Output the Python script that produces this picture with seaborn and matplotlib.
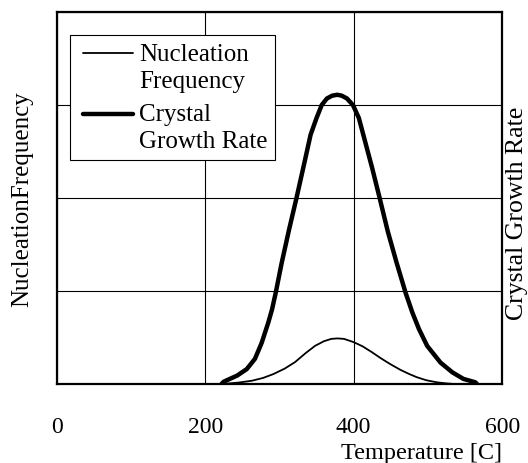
import numpy as np
import pandas as pd
import matplotlib.pyplot as plt
import seaborn as sns
from matplotlib.lines import Line2D
from matplotlib.legend_handler import HandlerLine2D

# values
temp_growth = [222, 225, 243, 256, 267, 276, 285, 290, 295, 303, 313, 323, 332, 342, 350, 357, 364,
               371, 378, 384, 391, 399, 407, 413, 425, 435, 446, 458, 470, 479, 488, 499, 517, 533,
               548, 564, 566]
growth_rate = [0.0, 0.025, 0.09, 0.16, 0.27, 0.44, 0.66, 0.80, 0.98, 1.30, 1.66, 2.0, 2.32, 2.68, 2.86,
               3.0, 3.07, 3.10, 3.11, 3.10, 3.07, 3.0, 2.86, 2.68, 2.32, 2.0, 1.64, 1.30, 0.98, 0.77,
               0.59, 0.41, 0.23, 0.125, 0.054, 0.018, 0.0]

temp_nuc = [223, 245, 263, 278, 292, 307, 321, 335, 348, 360, 370, 378, 387, 400, 412, 424, 436,
            449, 463, 474, 485, 498, 512, 524, 535]
nuc_freq = [0.0, 0.015, 0.035, 0.065, 0.107, 0.165, 0.235, 0.33, 0.41, 0.46, 0.485, 0.49, 0.485,
            0.45, 0.405, 0.345, 0.28, 0.215, 0.152, 0.11, 0.073, 0.04, 0.018, 0.007, 0.0]

x_ticks = [0, 200, 400, 600]
y_grid = [0, 1, 2, 3, 4]

df_g = pd.DataFrame({'T': temp_growth, 'v': growth_rate})
df_n = pd.DataFrame({'T': temp_nuc, 'v': nuc_freq})


# legend line sits next to the first line of the label, with a gap on the left
class FirstLineHandler(HandlerLine2D):
    def create_artists(self, legend, orig_handle, xdescent, ydescent, width, height, fontsize, trans):
        artists = super().create_artists(legend, orig_handle, xdescent, ydescent,
                                         width, height, fontsize, trans)
        for a in artists:
            xd = np.asarray(a.get_xdata(), dtype=float)
            yd = np.asarray(a.get_ydata(), dtype=float)
            if len(xd) >= 2:
                xd[0] = xd[0] + 0.22 * fontsize
            a.set_xdata(xd)
            a.set_ydata(yd + 0.54 * fontsize)
        return artists


sns.set_theme(style='white')
plt.rcParams['font.family'] = ['Liberation Serif', 'DejaVu Serif']
plt.rcParams['font.size'] = 17

fig, ax = plt.subplots(figsize=(5.28, 4.64), dpi=100)
fig.subplots_adjust(left=0.1074, right=0.951, top=0.972, bottom=0.1703)

sns.lineplot(data=df_n, x='T', y='v', ax=ax, color='black', linewidth=1.3,
             label='Nucleation\nFrequency', sort=False)
sns.lineplot(data=df_g, x='T', y='v', ax=ax, color='black', linewidth=3.2,
             label='Crystal\nGrowth Rate', sort=False)

ax.set_xlim(0, 600)
ax.set_ylim(0, 4)
ax.set_xticks(x_ticks)
ax.set_yticks(y_grid)
ax.set_yticklabels([])
ax.tick_params(axis='x', length=0, pad=23, labelsize=17, colors='black')
ax.tick_params(axis='y', length=0, pad=0)
ax.grid(True, color='black', linewidth=0.8)
for s in ax.spines.values():
    s.set_color('black')
    s.set_linewidth(1.6)

ax.set_xlabel('Temperature [C]', loc='right', labelpad=4, fontsize=17.5, color='black')
ax.set_ylabel('NucleationFrequency', labelpad=17, fontsize=18, color='black')

ax2 = ax.twinx()
ax2.set_yticks([])
ax2.set_ylabel('Crystal Growth Rate', labelpad=3, fontsize=18.5, color='black', y=0.462)
for s in ax2.spines.values():
    s.set_visible(False)

leg = ax.legend(loc='upper left', bbox_to_anchor=(0.03, 0.938), frameon=True,
                fancybox=False, framealpha=1, edgecolor='black', fontsize=18,
                labelcolor='black', handlelength=2.22, handletextpad=0.24,
                labelspacing=0.45, borderpad=0.3, borderaxespad=0,
                handler_map={Line2D: FirstLineHandler()})
leg.get_frame().set_linewidth(0.8)
for t in leg.get_texts():
    t.set_linespacing(1.3)

plt.savefig('out.png', dpi=100)
